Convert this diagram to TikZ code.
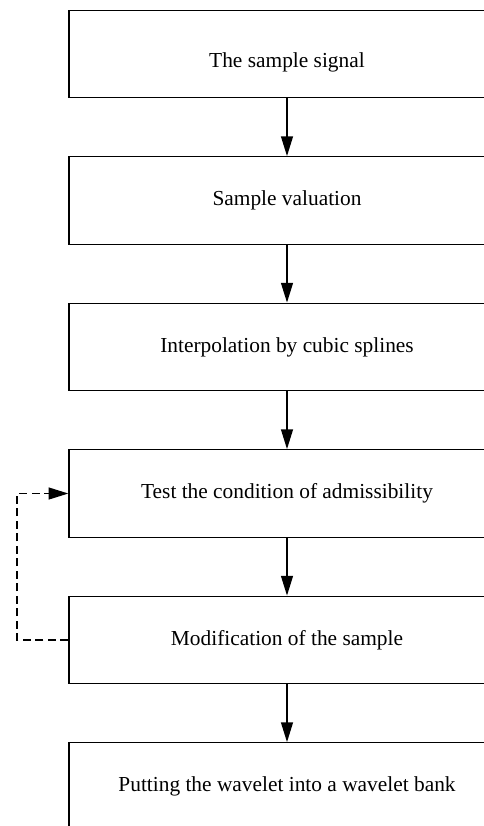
\documentclass[tikz,border=0pt]{standalone}
\usepackage{fontspec}
\setmainfont{Liberation Serif}
\usetikzlibrary{positioning,arrows.meta}

\begin{document}
\begin{tikzpicture}[x=0.025cm, y=-0.025cm, >={Triangle[length=14pt,width=8.5pt]},
    node distance=1.44cm,
    stepbox/.style={draw, line width=0.9pt, minimum width=10.9cm, minimum height=2.19cm,
      inner sep=0pt, font=\fontsize{15.2}{18}\selectfont},
    flow/.style={->, line width=0.9pt},
    loopback/.style={->, line width=0.9pt, dash pattern=on 5.7pt off 3.2pt}]
    \clip (0,0) rectangle (484,826);

    % Processing chain (top to bottom)
    \node[stepbox] (signal) at (287,54) {\raisebox{-0.2cm}[\height][\depth]{The sample signal}};
    \node[stepbox, below=of signal] (valuation) {Sample valuation};
    \node[stepbox, below=of valuation] (spline) {Interpolation by cubic splines};
    \node[stepbox, below=of spline] (admiss) {Test the condition of admissibility};
    \node[stepbox, below=of admiss] (modify) {Modification of the sample};
    \node[stepbox, below=of modify] (bank) {Putting the wavelet into a wavelet bank};

    \foreach \a/\b in {signal/valuation,valuation/spline,spline/admiss,admiss/modify,modify/bank}
      \draw[flow] (\a) -- (\b);

    % Feedback loop
    \coordinate (back) at (17,0);
    \draw[loopback] (modify.west) -| (back |- modify) |- (admiss.west);
\end{tikzpicture}
\end{document}
